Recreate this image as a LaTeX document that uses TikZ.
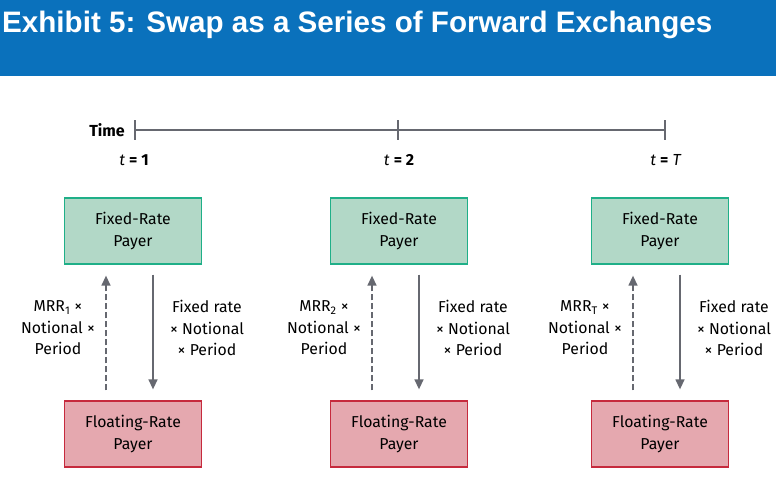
\documentclass[tikz,border=0pt]{standalone}
\usepackage{fontspec}
\setmainfont{Fira Sans}
\newfontfamily\titlefont{Liberation Sans}
\usetikzlibrary{positioning,arrows.meta}
\definecolor{bannerblue}{HTML}{0A71BC}
\definecolor{fixfill}{HTML}{B2D8C7}
\definecolor{fixline}{HTML}{1FAF88}
\definecolor{fltfill}{HTML}{E5A8AF}
\definecolor{fltline}{HTML}{C62A3D}
\definecolor{flowgray}{HTML}{666870}

\begin{document}
\begin{tikzpicture}
                [
                x=1pt,y=-1pt,
                every node/.style={font=\fontsize{15.8}{21.5}\selectfont},
                fixbox/.style={rectangle,draw=fixline,fill=fixfill,line width=1.3pt,minimum width=137pt,minimum height=66pt,align=center},
                fltbox/.style={rectangle,draw=fltline,fill=fltfill,line width=1.3pt,minimum width=137pt,minimum height=66pt,align=center},
                flow/.style={-{Triangle[length=10pt,width=9pt]},flowgray,line width=1.4pt,shorten <=10pt,shorten >=11pt},
                flowtext/.style={align=center,text=black},
                ]
                \useasboundingbox (0,0) rectangle (776,478);
                % banner
                \fill[bannerblue] (0,0) rectangle (776,76);
                \node[anchor=base west,inner sep=0pt,text=white,font=\titlefont\bfseries\fontsize{29.6}{30}\selectfont] (title) at (2,33) {Exhibit 5: Swap as a Series of Forward Exchanges};
                % time line
                \coordinate (tick1) at (135,130);
                \coordinate (tick2) at (398,130);
                \coordinate (tick3) at (665,130);
                \draw[flowgray,line width=1.4pt] (tick1) -- (tick3);
                \foreach \t in {tick1,tick2,tick3}
                    \draw[flowgray,line width=1.4pt] ([yshift=-10pt]\t) -- ([yshift=10pt]\t);
                \node[anchor=east,inner sep=0pt,font=\bfseries\fontsize{16}{18}\selectfont] (timelbl) at (125,130) {Time};
                \node[font=\fontsize{16}{18}\selectfont] (time1) at (134,160) {\textit{t} \textbf{= 1}};
                \node[font=\fontsize{16}{18}\selectfont] (time2) at (399,160) {\textit{t} \textbf{= 2}};
                \node[font=\fontsize{16}{18}\selectfont] (time3) at (666,160) {\textit{t} \textbf{=} \textit{T}};
                % the three exchanges
                \foreach \i/\cx/\s in {1/133/1, 2/399/2, 3/660/T}{
                    \node[fixbox] (fix\i) at (\cx,231) {Fixed-Rate\\Payer};
                    \node[fltbox] (flt\i) at (\cx,434) {Floating-Rate\\Payer};
                    \draw[flow,dash pattern=on 6pt off 3pt] ([xshift=-27pt]flt\i.north) -- ([xshift=-27pt]fix\i.south);
                    \draw[flow] ([xshift=20pt]fix\i.south) -- ([xshift=20pt]flt\i.north);
                    \node[flowtext] (flt\i lbl) at (\cx-75,328) {MRR\textsubscript{\s} ×\\Notional ×\\Period};
                    \node[flowtext] (fix\i lbl) at (\cx+74,328) {Fixed rate\\× Notional\\× Period};
                }
            \end{tikzpicture}
\end{document}
